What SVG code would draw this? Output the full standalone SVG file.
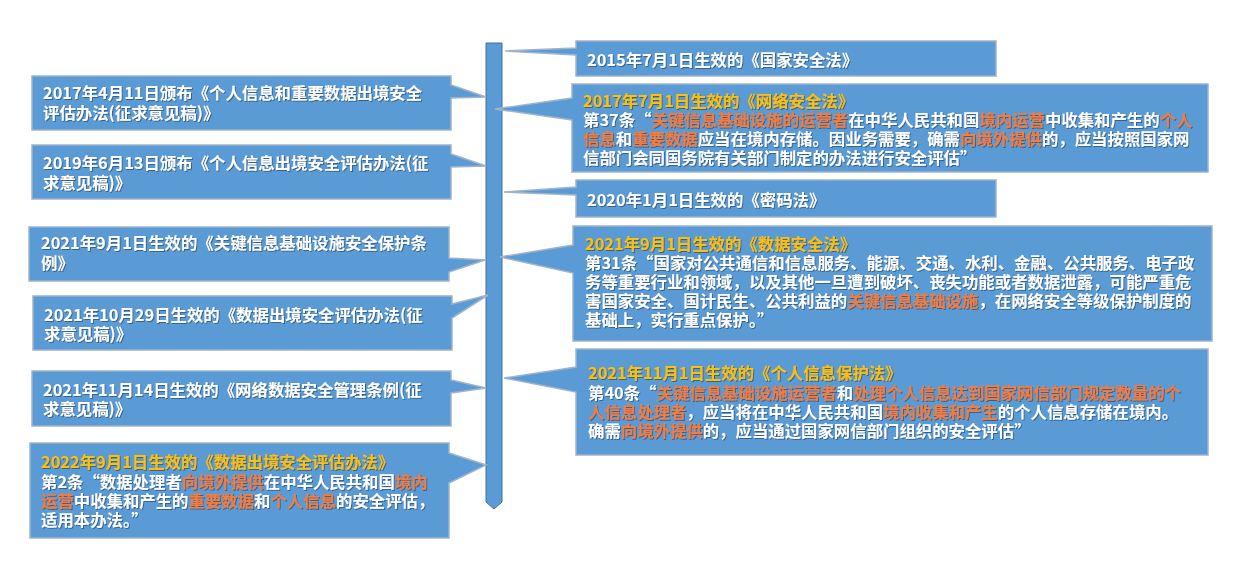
<svg xmlns="http://www.w3.org/2000/svg" width="1243" height="563" viewBox="0 0 1243 563">
<defs>
<filter id="sh" x="-5%" y="-20%" width="110%" height="140%"><feDropShadow dx="1" dy="1" stdDeviation="0.6" flood-color="#1f3a5a" flood-opacity="0.6"/></filter>
</defs>
<style>
.box{fill:#5b9bd5;stroke:#9fb4cc;stroke-width:1.5}
.bar{fill:#5b9bd5;stroke:#41719c;stroke-width:1}
text{font-family:"Noto Sans CJK SC","Microsoft YaHei",sans-serif;font-size:16.4px;font-weight:bold;fill:#fff;filter:url(#sh)}
.y{fill:#ffc000}
.o{fill:#f47c3c}
</style>
<rect width="1243" height="563" fill="#fff"/>
<g id="connectors">
<path class="bar" d="M486,43 H502 V502 L494,509 L486,502 Z"/>
</g>
<g id="L1"><path class="box" d="M32,76 H451 V85 L486,97 L451,98 V130 H32 Z"/>
<text x="43" y="99">2017年4月11日颁布《个人信息和重要数据出境安全</text><text x="43" y="119">评估办法(征求意见稿)》</text></g>
<g id="L2"><path class="box" d="M32,145 H451 V154 L486,166 L451,167 V199 H32 Z"/>
<text x="43" y="169">2019年6月13日颁布《个人信息出境安全评估办法(征</text><text x="43" y="189">求意见稿)》</text></g>
<g id="L3"><path class="box" d="M29,227 H449 V258 L485,260 L449,272 V281 H29 Z"/>
<text x="41" y="249">2021年9月1日生效的《关键信息基础设施安全保护条</text><text x="41" y="269">例》</text></g>
<g id="L4"><path class="box" d="M33,296 H452 V304 L488,295 L452,318 V350 H33 Z"/>
<text x="44" y="321">2021年10月29日生效的《数据出境安全评估办法(征</text><text x="44" y="340">求意见稿)》</text></g>
<g id="L5"><path class="box" d="M32,371 H451 V380 L486,388 L451,393 V426 H32 Z"/>
<text x="43" y="396">2021年11月14日生效的《网络数据安全管理条例(征</text><text x="43" y="415">求意见稿)》</text></g>
<g id="L6"><path class="box" d="M30,443 H449 V453 L486,465 L449,483 V538 H30 Z"/>
<text x="41" y="468" class="y">2022年9月1日生效的《数据出境安全评估办法》</text>
<text x="41" y="488">第2条“数据处理者<tspan class="o">向境外提供</tspan>在中华人民共和国<tspan class="o">境内</tspan></text>
<text x="41" y="507"><tspan class="o">运营</tspan>中收集和产生的<tspan class="o">重要数据</tspan>和<tspan class="o">个人信息</tspan>的安全评估，</text>
<text x="41" y="526">适用本办法。”</text></g>
<g id="R1"><path class="box" d="M576,41 H996 V76 H576 V55 L505,51 L576,48 Z"/>
<text x="587" y="66">2015年7月1日生效的《国家安全法》</text></g>
<g id="R2"><path class="box" d="M572,84 H1208 V172 H572 V120 L495,109 L572,98 Z"/>
<text x="583" y="107" class="y">2017年7月1日生效的《网络安全法》</text>
<text x="583" y="126">第37条“<tspan class="o">关键信息基础设施的运营者</tspan>在中华人民共和国<tspan class="o">境内运营</tspan>中收集和产生的<tspan class="o">个人</tspan></text>
<text x="583" y="145"><tspan class="o">信息</tspan>和<tspan class="o">重要数据</tspan>应当在境内存储。因业务需要，确需<tspan class="o">向境外提供</tspan>的，应当按照国家网</text>
<text x="583" y="164">信部门会同国务院有关部门制定的办法进行安全评估”</text></g>
<g id="R3"><path class="box" d="M576,180 H996 V217 H576 V195 L504,192 L576,187 Z"/>
<text x="587" y="206">2020年1月1日生效的《密码法》</text></g>
<g id="R4"><path class="box" d="M573,226 H1212 V341 H573 V273 L500,257 L573,245 Z"/>
<text x="585" y="250" class="y">2021年9月1日生效的《数据安全法》</text>
<text x="585" y="269">第31条“国家对公共通信和信息服务、能源、交通、水利、金融、公共服务、电子政</text>
<text x="585" y="288">务等重要行业和领域，以及其他一旦遭到破坏、丧失功能或者数据泄露，可能严重危</text>
<text x="585" y="307">害国家安全、国计民生、公共利益的<tspan class="o">关键信息基础设施</tspan>，在网络安全等级保护制度的</text>
<text x="585" y="326">基础上，实行重点保护。”</text></g>
<g id="R5"><path class="box" d="M576,349 H1208 V455 H576 V392 L504,378 L576,367 Z"/>
<text x="588" y="379" class="y">2021年11月1日生效的《个人信息保护法》</text>
<text x="588" y="399">第40条“<tspan class="o">关键信息基础设施运营者</tspan>和<tspan class="o">处理个人信息达到国家网信部门规定数量的个</tspan></text>
<text x="588" y="418"><tspan class="o">人信息处理者</tspan>，应当将在中华人民共和国<tspan class="o">境内收集和产生</tspan>的个人信息存储在境内。</text>
<text x="588" y="437">确需<tspan class="o">向境外提供</tspan>的，应当通过国家网信部门组织的安全评估”</text></g>
</svg>
